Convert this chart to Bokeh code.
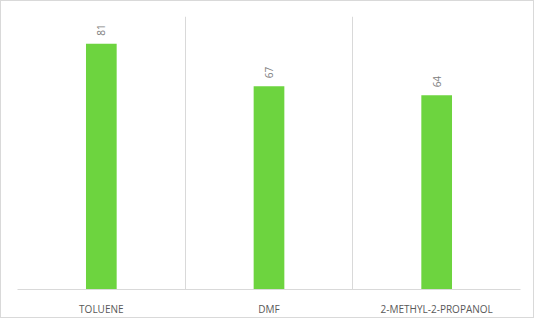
import math
from bokeh.plotting import figure
from bokeh.models import ColumnDataSource, Range1d, FixedTicker
from bokeh.core.properties import value
from bokeh.embed import file_html
from bokeh.resources import INLINE

categories = ["TOLUENE", "DMF", "2-METHYL-2-PROPANOL"]
yields = [81, 67, 64]
label_texts = [str(v) for v in yields]

xpos = [i + 0.5 for i in range(len(categories))]
src = ColumnDataSource(dict(x=xpos, top=yields, lbl=label_texts))

p = figure(width=534, height=318, output_backend="svg", toolbar_location=None,
           x_range=Range1d(0, len(categories)), y_range=Range1d(0, 90),
           min_border_left=16, min_border_right=15, min_border_top=15, min_border_bottom=30)
p.styles = {"border": "1px solid #d9d9d9", "box-sizing": "border-box"}
p.outline_line_color = None
p.background_fill_color = "white"
p.border_fill_color = "white"

p.vbar(x="x", top="top", bottom=0, width=0.183, source=src,
       fill_color="#6dd43f", line_color=None)

p.text(x="x", y="top", text="lbl", source=src, angle=math.pi / 2,
       text_align="left", text_baseline="middle", y_offset=-8,
       text_font=value("Open Sans"), text_font_size="10px", text_color="#808080")

p.yaxis.visible = False
p.ygrid.visible = False
p.xgrid.ticker = FixedTicker(ticks=list(range(len(categories) + 1)))
p.xgrid.grid_line_color = "#d9d9d9"
p.xgrid.grid_line_width = 1

ax = p.xaxis[0]
ax.ticker = FixedTicker(ticks=xpos)
ax.major_label_overrides = {x: c for x, c in zip(xpos, categories)}
ax.axis_line_color = "#d9d9d9"
ax.major_tick_line_color = None
ax.minor_tick_line_color = None
ax.major_label_text_font = "Open Sans"
ax.major_label_text_font_size = "10px"
ax.major_label_text_color = "#595959"
ax.major_label_standoff = 6

open("out.html", "w").write(file_html(p, INLINE))
